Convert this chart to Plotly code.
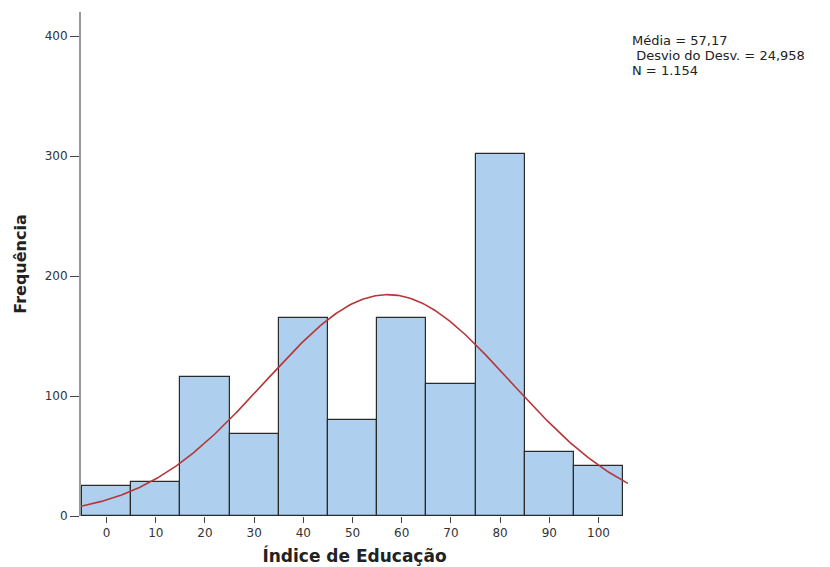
import numpy as np
import plotly.graph_objects as go

# Histogram bins (centres, width 10) and frequencies
bin_centers = [0, 10, 20, 30, 40, 50, 60, 70, 80, 90, 100]
frequencies = [25, 28, 116, 68, 165, 80, 165, 110, 302, 53, 42]
bin_width = 10

# Summary statistics shown in the corner
mean_val = 57.17
sd_val = 24.958
n_val = 1154
stats_text = ["Média = 57,17", " Desvio do Desv. = 24,958", "N = 1.154"]

x_ticks = [0, 10, 20, 30, 40, 50, 60, 70, 80, 90, 100]
y_ticks = [0, 100, 200, 300, 400]

# Fitted normal curve scaled to counts per bin
xc = np.linspace(-5.2, 106, 400)
yc = n_val * bin_width / (sd_val * np.sqrt(2 * np.pi)) * np.exp(-0.5 * ((xc - mean_val) / sd_val) ** 2)

fig = go.Figure()
fig.add_trace(go.Bar(
    x=bin_centers, y=frequencies, width=bin_width,
    marker=dict(color="#aed0ee", line=dict(color="#2a2a2a", width=1.2)),
    showlegend=False, hoverinfo="x+y",
))
fig.add_trace(go.Scatter(
    x=xc, y=yc, mode="lines",
    line=dict(color="#b5363a", width=1.6),
    showlegend=False, hoverinfo="skip",
))

fig.update_layout(
    width=830, height=567,
    margin=dict(l=81, r=202, t=12, b=51),
    paper_bgcolor="white", plot_bgcolor="white",
    bargap=0,
    font=dict(family="DejaVu Sans", color="#333333"),
    xaxis=dict(
        range=[-5.2, 106], tickvals=x_ticks, automargin=False,
        ticks="outside", ticklen=6, tickcolor="#444444", tickwidth=1,
        showline=False, showgrid=False, zeroline=False,
        tickfont=dict(size=12, color="#333333"),
        title=dict(text="<b>Índice de Educação</b>", font=dict(size=17, color="#222222"), standoff=10),
    ),
    yaxis=dict(
        range=[0, 420], tickvals=y_ticks, automargin=False,
        ticks="outside", ticklen=9, tickcolor="#444444", tickwidth=1,
        showline=True, linecolor="#999999", linewidth=2,
        showgrid=False, zeroline=False,
        tickfont=dict(size=12, color="#333333"),
        title=dict(text="<b>Frequência</b>", font=dict(size=16, color="#222222"), standoff=14),
    ),
)

# Three stacked lines of statistics at the upper right
for i, txt in enumerate(stats_text):
    fig.add_annotation(
        xref="paper", yref="paper", x=1.0055, y=0.9444 - i * 0.0298,
        xanchor="left", yanchor="middle", showarrow=False, borderpad=0,
        text=txt, font=dict(family="DejaVu Sans", size=13, color="#222222"),
    )

fig.write_html("out.html")
